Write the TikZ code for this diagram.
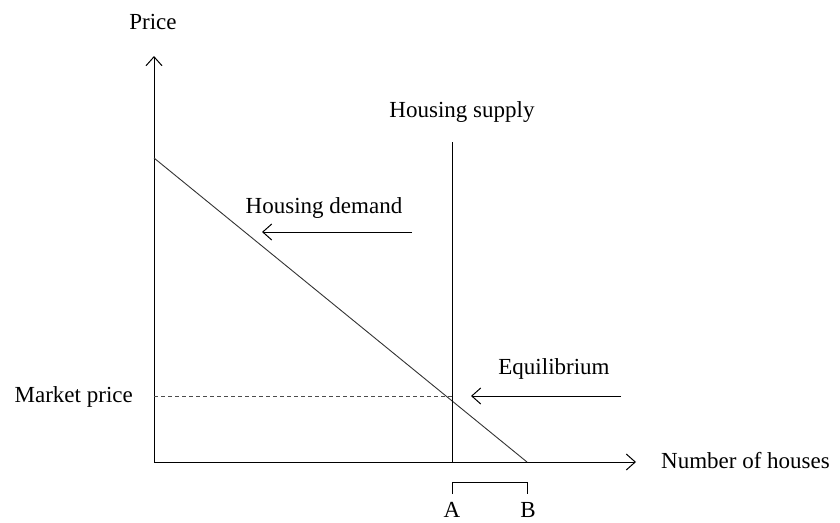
\documentclass[tikz,border=0pt]{standalone}
\usepackage{fontspec}
\setmainfont{Liberation Serif}
\usetikzlibrary{arrows.meta}
\begin{document}
\begin{tikzpicture}[x=1pt,y=-1pt,
  lbl/.style={font=\fontsize{23}{26}\selectfont, inner sep=0pt},
  axis/.style={line width=1pt, -{Straight Barb[length=9pt,width=16pt,line width=1pt]}},
  thin/.style={line width=0.9pt},
  pointer/.style={line width=1pt, -{Straight Barb[length=9pt,width=16pt,line width=1pt]}}]
\useasboundingbox (0,0) rectangle (840,522);
\coordinate (O) at (154,462);
\coordinate (ytop) at (154,56);
\coordinate (xend) at (636,462);
\coordinate (d1) at (154,158);
\coordinate (d2) at (527,462);
\coordinate (s1) at (452,142);
\coordinate (s2) at (452,462);
\coordinate (eq) at (452,396);
\coordinate (mp) at (154,396);
\coordinate (eqs) at (621,396);
\coordinate (eqe) at (471,396);
\coordinate (hds) at (412,232);
\coordinate (hde) at (262,232);
\coordinate (bA) at (452,494);
\coordinate (bAt) at (452,482);
\coordinate (bBt) at (527,482);
\coordinate (bB) at (527,494);
\draw[axis] (O) -- (ytop);
\draw[axis] (O) -- (xend);
\draw[thin, black!80] (d1) -- (d2);
\draw[thin] (s1) -- (s2);
\draw[thin, dashed, black!70, dash pattern=on 4pt off 3pt, line width=0.6pt] (mp) -- (eq);
\draw[pointer] (eqs) -- (eqe);
\draw[pointer] (hds) -- (hde);
\draw[thin] (bA) -- (bAt) -- (bBt) -- (bB);
\node[lbl] (price) at (153,22) {Price};
\node[lbl] (supply) at (462,112) {Housing supply};
\node[lbl] (demand) at (324,208) {Housing demand};
\node[lbl] (equil) at (554,369) {Equilibrium};
\node[lbl, anchor=east] (market) at (133,397) {Market price};
\node[lbl, anchor=west] (number) at (661,461) {Number of houses};
\node[lbl] (A) at (452,510) {A};
\node[lbl] (B) at (528,510) {B};
\end{tikzpicture}
\end{document}
